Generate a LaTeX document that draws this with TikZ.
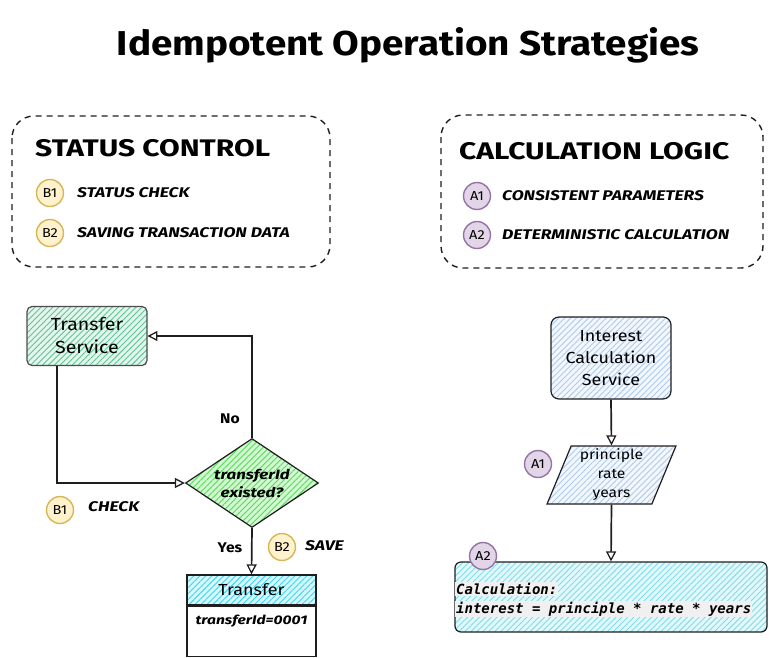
\documentclass[tikz,border=0pt]{standalone}
\usepackage{fontspec}
\setmainfont{Fira Sans}[FakeStretch=1.12]
\newfontfamily\widefont{Fira Sans}[FakeStretch=1.25]
\newfontfamily\codefont{DejaVu Sans Mono}
\usetikzlibrary{shapes.geometric,patterns.meta,arrows.meta,calc}
\definecolor{ink}{HTML}{1E1E1E}
\definecolor{tsbase}{HTML}{E4F5EC}
\definecolor{tshatch}{HTML}{5EC49A}
\definecolor{dgbase}{HTML}{D4F7D4}
\definecolor{dghatch}{HTML}{4EE04E}
\definecolor{cybase}{HTML}{D6F7FC}
\definecolor{cyhatch}{HTML}{3DD6EE}
\definecolor{lbbase}{HTML}{F2F7FD}
\definecolor{lbhatch}{HTML}{AECBEB}
\definecolor{ccbase}{HTML}{E2F8FB}
\definecolor{cchatch}{HTML}{80DEEA}
\definecolor{yfill}{HTML}{FFF2CC}
\definecolor{ydraw}{HTML}{D6B656}
\definecolor{pfill}{HTML}{E1D5E7}
\definecolor{pdraw}{HTML}{9673A6}
\begin{document}
\begin{tikzpicture}[x=1pt,y=-1pt,
  dashbox/.style={draw=ink,line width=1.4pt,dash pattern=on 6pt off 5pt,rounded corners=22pt},
  hatch/.style 2 args={preaction={fill=#1},pattern={Lines[angle=45,distance=4.2pt,line width=0.9pt]},pattern color=#2},
  badgeY/.style={circle,draw=ydraw,fill=yfill,line width=1.4pt,minimum size=27pt,inner sep=0pt,font=\fontsize{13}{15}\selectfont},
  badgeP/.style={circle,draw=pdraw,fill=pfill,line width=1.4pt,minimum size=27pt,inner sep=0pt,font=\fontsize{13}{15}\selectfont},
  legend/.style={anchor=west,inner sep=0pt,font=\widefont\fontsize{14}{16}\selectfont\bfseries\itshape},
  heading/.style={anchor=west,inner sep=0pt,font=\widefont\fontsize{24}{28}\selectfont\bfseries},
  arr/.style={draw=ink,line width=1.7pt,-{Triangle[open,length=10pt,width=10pt,line width=1.3pt]}},
  lbl/.style={inner sep=0pt,font=\fontsize{14}{17}\selectfont\bfseries},
  ilbl/.style={anchor=west,inner sep=0pt,font=\widefont\fontsize{14}{17}\selectfont\bfseries\itshape},
  code/.style={anchor=west,inner sep=1pt,fill=black!6,font=\codefont\fontsize{14}{16}\selectfont\bfseries\itshape}
]
\useasboundingbox (0,0) rectangle (769,657);
\node[font=\fontsize{34.5}{40}\selectfont\bfseries] (title) at (408,45) {Idempotent Operation Strategies};

% legend boxes
\draw[dashbox] (12,116) rectangle (330,267);
\draw[dashbox] (441,115) rectangle (763,268);
\node[heading] (h1) at (35,148) {STATUS CONTROL};
\node[heading] (h2) at (459,151) {CALCULATION LOGIC};
\node[badgeY] (lb1) at (50,193) {B1};
\node[legend] (lt1) at (77,193) {STATUS CHECK};
\node[badgeY] (lb2) at (50,233) {B2};
\node[legend] (lt2) at (77,233) {SAVING TRANSACTION DATA};
\node[badgeP] (la1) at (477,196) {A1};
\node[legend] (lta1) at (502,196) {CONSISTENT PARAMETERS};
\node[badgeP] (la2) at (477,235) {A2};
\node[legend] (lta2) at (502,235) {DETERMINISTIC CALCULATION};

% left flow
\node[draw=black!70,line width=1.2pt,rounded corners=5pt,hatch={tsbase}{tshatch},
  minimum width=120pt,minimum height=59pt,align=center,font=\fontsize{17.5}{23}\selectfont] (ts) at (87,336) {Transfer\\Service};
\node[diamond,draw=ink,line width=1.2pt,hatch={dgbase}{dghatch},minimum width=133pt,minimum height=89pt,inner sep=0pt] (dia) at (252,483) {};
\node[inner sep=0pt,align=center,font=\widefont\fontsize{13.5}{18}\selectfont\bfseries\itshape] (diat) at (dia.center) {transferId\\existed?};
\node[draw=ink,line width=1.2pt,hatch={cybase}{cyhatch},minimum width=129pt,minimum height=30pt,inner sep=0pt,
  font=\fontsize{16}{19}\selectfont] (tr) at (251.5,590) {Transfer};
\node[draw=ink,line width=1.2pt,fill=white,minimum width=129pt,minimum height=50pt,inner sep=0pt,anchor=north] (trb) at (tr.south) {};
\node[inner sep=0pt,font=\widefont\fontsize{12.5}{16}\selectfont\bfseries\itshape] (trt) at (251.5,621) {transferId=0001};

\coordinate (tsout) at ($(ts.south west)!0.25!(ts.south east)$);
\draw[arr] (tsout) |- (dia.west);
\draw[arr] (dia.north) |- (ts.east);
\draw[arr] (dia.south) -- (tr.north);
\node[lbl] (no) at (230,419) {No};
\node[lbl] (yes) at (230,548) {Yes};
\node[badgeY] (b1) at (60,510) {B1};
\node[ilbl] (chk) at (88,507) {CHECK};
\node[badgeY] (b2) at (282,547) {B2};
\node[ilbl] (sav) at (305,546) {SAVE};

% right flow
\node[draw=ink,line width=1.2pt,rounded corners=8pt,hatch={lbbase}{lbhatch},
  minimum width=120pt,minimum height=82pt,align=center,font=\fontsize{16}{22}\selectfont] (isvc) at (611,358) {Interest\\Calculation\\Service};
\node[trapezium,trapezium left angle=70,trapezium right angle=110,trapezium stretches=true,draw=ink,line width=1.2pt,
  hatch={lbbase}{lbhatch},minimum width=129pt,minimum height=58pt,inner sep=0pt,align=center,
  font=\fontsize{14}{19}\selectfont] (par) at (611.5,475) {principle\\rate\\years};
\node[draw=ink,line width=1.2pt,rounded corners=6pt,hatch={ccbase}{cchatch},minimum width=312pt,minimum height=70pt] (calc) at (611,597) {};
\node[code] (c1) at (455,589) {Calculation:};
\node[code] (c2) at (455,609) {interest = principle * rate * years};
\draw[arr] (isvc.south) -- (par.north);
\draw[arr] (par.south) -- (calc.north);
\node[badgeP] (a1) at (538,464) {A1};
\node[badgeP] (a2) at (483,556) {A2};
\end{tikzpicture}
\end{document}
